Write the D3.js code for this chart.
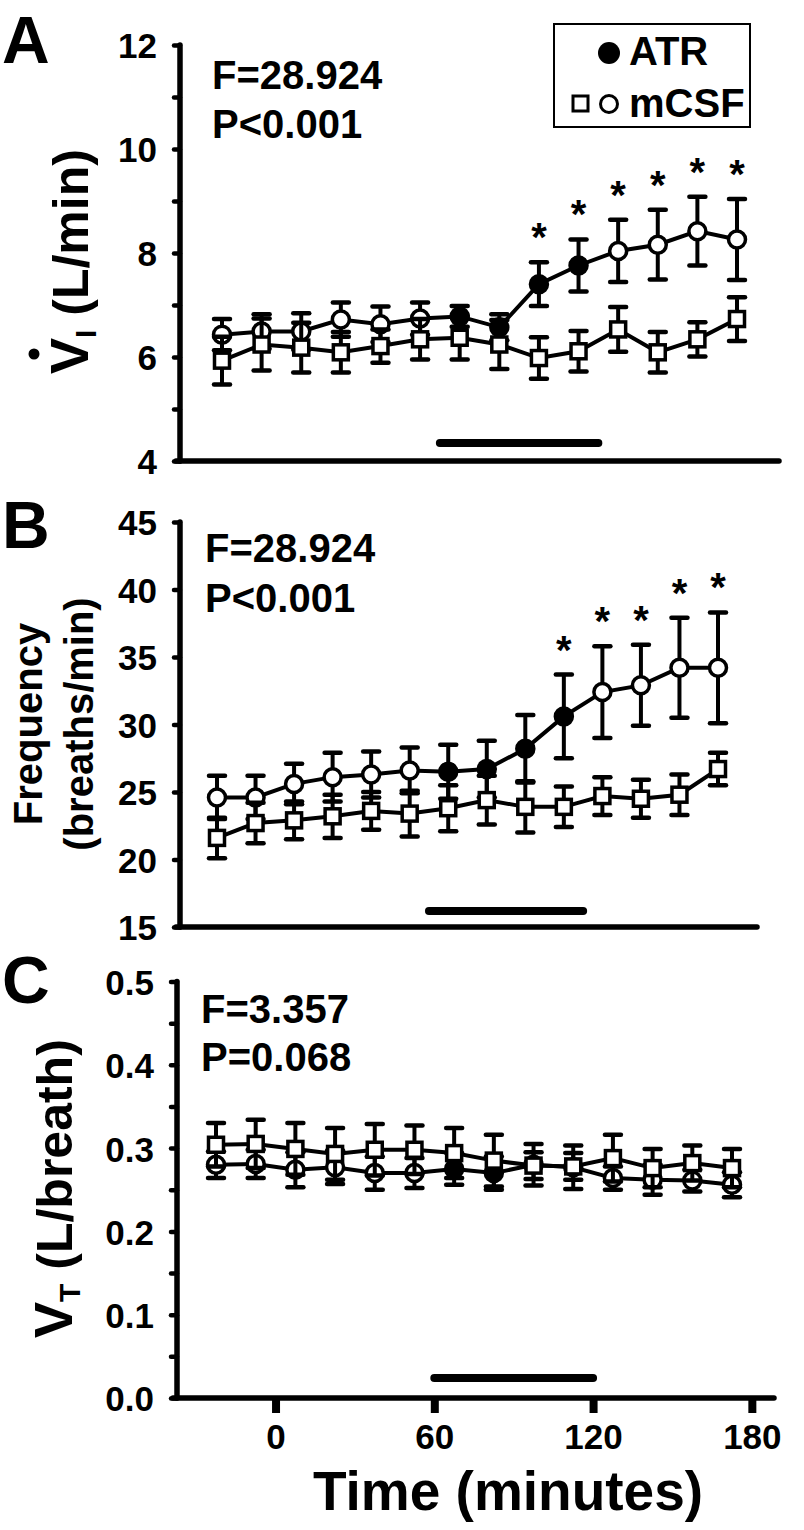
<!DOCTYPE html>
<html><head><meta charset="utf-8">
<script src="https://cdn.jsdelivr.net/npm/d3@7/dist/d3.min.js"></script>
<style>
body{margin:0;background:#fff}
text{font-family:"Liberation Sans",Arial,sans-serif;font-weight:bold;fill:#000}
</style>
</head><body>
<svg id="chart" width="804" height="1530"></svg>
<script>
// ---------- data ----------
const times = [-22.5,-7.5,7.5,22.5,37.5,52.5,67.5,82.5,97.5,112.5,127.5,142.5,157.5,172.5];
const atrIndex = [6,7,8,9];           // circle points drawn filled (ATR period)
const barRange = [60,120];

const viCircle    = [6.43,6.49,6.49,6.72,6.63,6.74,6.78,6.57,7.40,7.76,8.04,8.16,8.42,8.26];
const viCircleErr = [0.30,0.33,0.35,0.33,0.34,0.31,0.20,0.25,0.42,0.50,0.60,0.67,0.66,0.78];
const viSquare    = [5.93,6.24,6.18,6.09,6.21,6.34,6.37,6.24,5.98,6.11,6.53,6.09,6.34,6.73];
const viSquareErr = [0.46,0.50,0.48,0.39,0.32,0.39,0.42,0.47,0.40,0.39,0.43,0.39,0.33,0.42];
const viSig = [8,9,10,11,12,13];

const fCircle    = [24.6,24.6,25.6,26.1,26.3,26.6,26.5,26.7,28.2,30.6,32.4,32.9,34.2,34.2];
const fCircleErr = [1.6,1.6,1.5,1.8,1.7,1.7,2.0,2.1,2.5,3.1,3.4,3.0,3.7,4.1];
const fSquare    = [21.6,22.7,22.9,23.2,23.6,23.4,23.8,24.4,23.9,23.9,24.7,24.5,24.8,26.7];
const fSquareErr = [1.5,1.5,1.4,1.6,1.4,1.7,1.7,1.8,1.9,1.5,1.4,1.4,1.5,1.2];
const fSig = [9,10,11,12,13];

const vtCircle    = [0.280,0.281,0.274,0.277,0.270,0.270,0.275,0.270,0.280,0.277,0.264,0.262,0.261,0.256];
const vtCircleErr = [0.016,0.017,0.021,0.020,0.020,0.018,0.019,0.020,0.025,0.026,0.014,0.018,0.013,0.015];
const vtSquare    = [0.304,0.305,0.299,0.293,0.298,0.298,0.294,0.285,0.279,0.278,0.288,0.276,0.282,0.276];
const vtSquareErr = [0.026,0.029,0.031,0.031,0.031,0.029,0.030,0.031,0.016,0.016,0.028,0.023,0.021,0.023];
const vtSig = [];

const viTicks = [4,6,8,10,12];       const viMinor = [5,7,9,11];
const fTicks  = [15,20,25,30,35,40,45]; const fMinor = [];
const vtTicks = [0,0.1,0.2,0.3,0.4,0.5]; const vtMinor = [0.05,0.15,0.25,0.35,0.45];
const xTicks  = [0,60,120,180];

const statsA = ["F=28.924","P<0.001"];
const statsB = ["F=28.924","P<0.001"];
const statsC = ["F=3.357","P=0.068"];

// ---------- drawing ----------
const svg = d3.select("#chart");

const panels = [
  {letter:"A", letterY:63, top:45, bottom:461, axisX:180, xEnd:779, xFirst:222, xLast:737,
   domain:[4,12], ticks:viTicks, minor:viMinor, fmt:d3.format("d"),
   circ:viCircle, circErr:viCircleErr, sq:viSquare, sqErr:viSquareErr, sig:viSig,
   barY:443, stats:statsA, statsY:[89,138], statsX:212, xAxis:false},
  {letter:"B", letterY:548, top:522, bottom:927, axisX:180, xEnd:757, xFirst:217, xLast:718,
   domain:[15,45], ticks:fTicks, minor:fMinor, fmt:d3.format("d"),
   circ:fCircle, circErr:fCircleErr, sq:fSquare, sqErr:fSquareErr, sig:fSig,
   barY:911, stats:statsB, statsY:[562,612], statsX:205, xAxis:false},
  {letter:"C", letterY:1003, top:981.5, bottom:1398, axisX:177, xEnd:774, xFirst:216, xLast:732,
   domain:[0,0.5], ticks:vtTicks, minor:vtMinor, fmt:d3.format(".1f"),
   circ:vtCircle, circErr:vtCircleErr, sq:vtSquare, sqErr:vtSquareErr, sig:vtSig,
   barY:1378, stats:statsC, statsY:[1023,1071], statsX:201, xAxis:true}
];

panels.forEach(p => {
  const g = svg.append("g");
  const y = d3.scaleLinear().domain(p.domain).range([p.bottom, p.top]);
  const x = d3.scaleLinear().domain([times[0], times[times.length-1]]).range([p.xFirst, p.xLast]);

  // panel letter
  g.append("text").attr("x", 2).attr("y", p.letterY).attr("font-size", 66).text(p.letter);

  // y axis
  const ya = g.append("g").attr("transform", `translate(${p.axisX},0)`)
    .call(d3.axisLeft(y).tickValues(p.ticks).tickFormat(p.fmt).tickSize(6).tickSizeOuter(0).tickPadding(17));
  ya.select(".domain").remove();
  ya.selectAll(".tick line").attr("stroke","#000").attr("stroke-width",4.5).attr("stroke-linecap","round");
  ya.selectAll(".tick text").attr("font-size",35).attr("font-family",null).attr("dy","0.37em");
  const ym = g.append("g").attr("transform", `translate(${p.axisX},0)`)
    .call(d3.axisLeft(y).tickValues(p.minor).tickFormat("").tickSize(6).tickSizeOuter(0));
  ym.select(".domain").remove();
  ym.selectAll(".tick line").attr("stroke","#000").attr("stroke-width",4.5).attr("stroke-linecap","round");
  g.append("line").attr("x1",p.axisX).attr("x2",p.axisX).attr("y1",y(p.domain[1])).attr("y2",y(p.domain[0]))
    .attr("stroke","#000").attr("stroke-width",5.5).attr("stroke-linecap","round");

  // x axis
  if (p.xAxis) {
    const xs = d3.scaleLinear().domain([0,180]).range([x(0), x(180)]);
    const xa = g.append("g").attr("transform", `translate(0,${p.bottom})`)
      .call(d3.axisBottom(xs).tickValues(xTicks).tickSize(15).tickSizeOuter(0).tickPadding(11));
    xa.select(".domain").remove();
    xa.selectAll(".tick line").attr("stroke","#000").attr("stroke-width",8);
    xa.selectAll(".tick text").attr("font-size",35).attr("font-family",null);
  }
  g.append("line").attr("x1",p.axisX-4).attr("x2",p.xEnd).attr("y1",p.bottom).attr("y2",p.bottom)
    .attr("stroke","#000").attr("stroke-width",5.5).attr("stroke-linecap","round");

  // treatment bar
  g.append("line").attr("x1",x(barRange[0])).attr("x2",x(barRange[1])).attr("y1",p.barY).attr("y2",p.barY)
    .attr("stroke","#000").attr("stroke-width",8).attr("stroke-linecap","round");

  // stats text
  p.stats.forEach((s,i) => g.append("text").attr("x",p.statsX).attr("y",p.statsY[i]).attr("font-size",40).text(s));

  const line = d3.line().x((d,i)=>x(times[i])).y(d=>y(d));
  const drawSeries = (vals, errs, type) => {
    const s = g.append("g");
    s.append("path").attr("d", line(vals)).attr("fill","none").attr("stroke","#000").attr("stroke-width",4);
    vals.forEach((v,i) => {
      const cx = x(times[i]);
      s.append("line").attr("x1",cx).attr("x2",cx).attr("y1",y(v-errs[i])).attr("y2",y(v+errs[i]))
        .attr("stroke","#000").attr("stroke-width",4);
      [v-errs[i], v+errs[i]].forEach(e => s.append("line").attr("x1",cx-8).attr("x2",cx+8)
        .attr("y1",y(e)).attr("y2",y(e)).attr("stroke","#000").attr("stroke-width",4.5).attr("stroke-linecap","round"));
    });
    vals.forEach((v,i) => {
      const cx = x(times[i]), cy = y(v);
      if (type === "circle") {
        s.append("circle").attr("cx",cx).attr("cy",cy).attr("r",8.5)
          .attr("fill", atrIndex.includes(i) ? "#000" : "#fff").attr("stroke","#000").attr("stroke-width",3.5);
      } else {
        s.append("rect").attr("x",cx-7.5).attr("y",cy-7.5).attr("width",15).attr("height",15)
          .attr("fill","#fff").attr("stroke","#000").attr("stroke-width",3.5);
      }
    });
  };
  drawSeries(p.circ, p.circErr, "circle");
  drawSeries(p.sq, p.sqErr, "square");

  // significance asterisks
  p.sig.forEach(i => {
    const capY = y(p.circ[i] + p.circErr[i]);
    g.append("text").attr("x", x(times[i])).attr("y", capY - 34 + 23).attr("text-anchor","middle")
      .attr("font-size",40).attr("font-weight","normal").text("*");
  });
});

// legend
const lg = svg.append("g");
lg.append("rect").attr("x",554).attr("y",24).attr("width",196).attr("height",103)
  .attr("fill","#fff").attr("stroke","#000").attr("stroke-width",2);
lg.append("circle").attr("cx",609).attr("cy",53).attr("r",11).attr("fill","#000");
lg.append("text").attr("x",629).attr("y",65).attr("font-size",40).text("ATR");
lg.append("rect").attr("x",573).attr("y",96).attr("width",15).attr("height",15)
  .attr("fill","#fff").attr("stroke","#000").attr("stroke-width",3);
lg.append("circle").attr("cx",609).attr("cy",104).attr("r",8.5).attr("fill","#fff").attr("stroke","#000").attr("stroke-width",3);
lg.append("text").attr("x",629).attr("y",117).attr("font-size",40).text("mCSF");

// y-axis titles
const yA = svg.append("g").attr("transform","translate(88,374) rotate(-90)");
const tA = yA.append("text").attr("x",0).attr("y",0).attr("font-size",50);
tA.append("tspan").attr("font-size",54).text("V");
tA.append("tspan").attr("font-size",30).attr("dy",8).text("I");
tA.append("tspan").attr("dy",-8).text(" (L/min)");
yA.append("circle").attr("cx",20).attr("cy",-54).attr("r",5.5);

const yB = svg.append("g").attr("transform","translate(0,724) rotate(-90)");
yB.append("text").attr("x",0).attr("y",42).attr("text-anchor","middle").attr("font-size",40).text("Frequency");
yB.append("text").attr("x",0).attr("y",93).attr("text-anchor","middle").attr("font-size",40).text("(breaths/min)");

const yC = svg.append("g").attr("transform","translate(72,1338) rotate(-90)");
const tC = yC.append("text").attr("x",0).attr("y",0).attr("font-size",50);
tC.append("tspan").attr("font-size",54).text("V");
tC.append("tspan").attr("font-size",30).attr("dy",8).text("T");
tC.append("tspan").attr("dy",-8).text(" (L/breath)");

// x-axis title
svg.append("text").attr("x",508).attr("y",1510).attr("text-anchor","middle").attr("font-size",55).text("Time (minutes)");
</script>
</body></html>
